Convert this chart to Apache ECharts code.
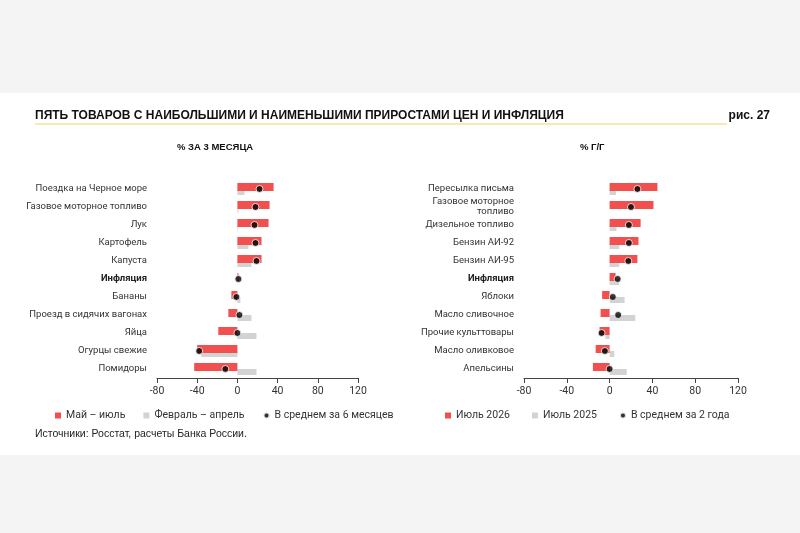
<!DOCTYPE html>
<html><head><meta charset="utf-8">
<script src="https://cdn.jsdelivr.net/npm/echarts@6/dist/echarts.min.js"></script>
<style>html,body{margin:0;padding:0;background:#f4f4f4}#c{width:800px;height:533px}</style>
</head><body><div id="c"></div>
<script>
var catsL = ['Поездка на Черное море','Газовое моторное топливо','Лук','Картофель','Капуста','Инфляция','Бананы','Проезд в сидячих вагонах','Яйца','Огурцы свежие','Помидоры'];
var mayJul = [36, 32, 31, 24, 24, 1, -6, -9, -19, -40, -43];
var febApr = [7, 1, 0.5, 11, 14, 0.3, 3, 14, 19, -36, 19];
var avg6m = [22, 18, 17, 18, 19, 1, -1, 2, 0, -38, -12];

var catsR = ['Пересылка письма','Газовое моторное\nтопливо','Дизельное топливо','Бензин АИ-92','Бензин АИ-95','Инфляция','Яблоки','Масло сливочное','Прочие культтовары','Масло оливковое','Апельсины'];
var jul2026 = [44.7, 41, 29, 27, 26, 5.6, -7, -8.4, -9.4, -13, -15.6];
var jul2025 = [6, 0, 6.5, 9, 9, 9, 14, 24, -4, 4.4, 16];
var avg2y = [26, 20, 18, 18, 17.5, 7.5, 3, 8, -7.5, -4.4, 0];

var RED = '#f24f4f', GREY = '#d3d3d3';
var chart = echarts.init(document.getElementById('c'));

function yAx(i, cats) {
  return {type:'category', gridIndex:i, data:cats, inverse:true,
    axisLine:{show:false}, axisTick:{show:false},
    axisLabel:{color:'#333', fontSize:9.5, margin:10,
      formatter:function(v){ return v === 'Инфляция' ? '{b|' + v + '}' : v; },
      rich:{b:{fontWeight:'bold', fontSize:9.5, color:'#222'}}}};
}
function xAx(i) {
  return {type:'value', gridIndex:i, min:-80, max:120, interval:40,
    splitLine:{show:false},
    axisLine:{show:true, onZero:false, lineStyle:{color:'#444'}},
    axisTick:{show:true, length:5, lineStyle:{color:'#444'}},
    axisLabel:{color:'#333', fontSize:10.5}};
}
function bars(i, a, b, c, names) {
  return [
    {name:names[0], type:'bar', xAxisIndex:i, yAxisIndex:i, data:a, barWidth:8, barGap:'-25%', itemStyle:{color:RED}},
    {name:names[1], type:'bar', xAxisIndex:i, yAxisIndex:i, data:b, barWidth:6, itemStyle:{color:GREY}, z:1},
    {name:names[2], type:'scatter', xAxisIndex:i, yAxisIndex:i, data:c, symbolSize:7, z:5,
      itemStyle:{color:'#000', borderColor:'#fff', borderWidth:1}}
  ];
}
var lnames = ['Май – июль','Февраль – апрель','В среднем за 6 месяцев'];
var rnames = ['Июль 2026','Июль 2025','В среднем за 2 года'];

chart.setOption({
  backgroundColor:'#f4f4f4',
  textStyle:{fontFamily:'Roboto, "Noto Sans", sans-serif'},
  graphic:[
    {type:'rect', shape:{x:0, y:93, width:800, height:362}, style:{fill:'#fff'}, z:-10},
    {type:'text', left:35, top:110, style:{text:'ПЯТЬ ТОВАРОВ С НАИБОЛЬШИМИ И НАИМЕНЬШИМИ ПРИРОСТАМИ ЦЕН И ИНФЛЯЦИЯ', fontSize:12, fontWeight:'bold', fill:'#111'}},
    {type:'text', right:30, top:110, style:{text:'рис. 27', fontSize:12, fontWeight:'bold', fill:'#111'}},
    {type:'line', shape:{x1:35, y1:124, x2:727, y2:124}, style:{stroke:'#f2d36b', lineWidth:1}},
    {type:'text', left:177, top:142, style:{text:'% ЗА 3 МЕСЯЦА', fontSize:9.5, fontWeight:'bold', fill:'#111'}},
    {type:'text', left:580, top:142, style:{text:'% Г/Г', fontSize:9.5, fontWeight:'bold', fill:'#111'}},
    {type:'text', left:35, top:429, style:{text:'Источники: Росстат, расчеты Банка России.', fontSize:10.5, fill:'#222'}}
  ],
  legend:[
    {left:50, top:405, itemWidth:6, itemHeight:6, itemGap:18, textStyle:{fontSize:10.5, color:'#333'},
      data:[{name:lnames[0], icon:'rect'},{name:lnames[1], icon:'rect'},{name:lnames[2], icon:'circle'}]},
    {left:440, top:405, itemWidth:6, itemHeight:6, itemGap:22, textStyle:{fontSize:10.5, color:'#333'},
      data:[{name:rnames[0], icon:'rect'},{name:rnames[1], icon:'rect'},{name:rnames[2], icon:'circle'}]}
  ],
  grid:[
    {left:157, width:201, top:180, height:198},
    {left:524, width:214, top:180, height:198}
  ],
  xAxis:[xAx(0), xAx(1)],
  yAxis:[yAx(0, catsL), yAx(1, catsR)],
  series: bars(0, mayJul, febApr, avg6m, lnames).concat(bars(1, jul2026, jul2025, avg2y, rnames))
});
</script></body></html>
